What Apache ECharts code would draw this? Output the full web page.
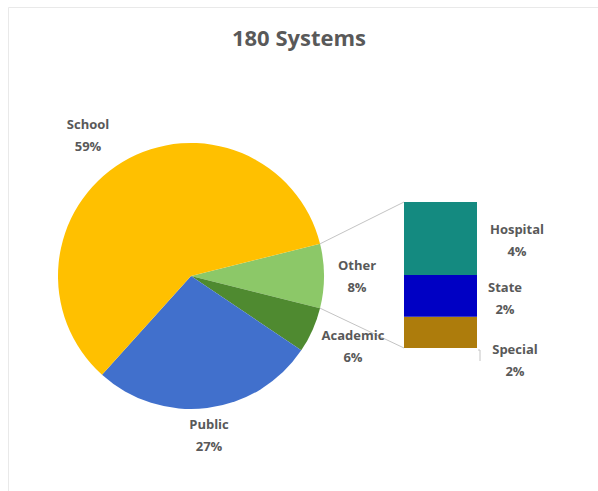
<!DOCTYPE html>
<html>
<head>
<meta charset="utf-8">
<script src="https://cdn.jsdelivr.net/npm/echarts@6/dist/echarts.min.js"></script>
<style>
  html, body { margin: 0; padding: 0; background: #ffffff; }
  #chart { width: 598px; height: 491px; }
</style>
</head>
<body>
<div id="chart"></div>
<script>
// Number of systems in each group (180 in total)
const TOTAL = 180;
const pieNames = ['Other', 'Academic', 'Public', 'School'];
const pieCounts = [14, 10, 49, 107];
// "Other" broken down in the side bar (bottom to top)
const barNames = ['Special', 'State', 'Hospital'];
const barCounts = [3, 4, 7];

// ---- styling / layout ----
const FONT = '"Open Sans", Lato, sans-serif';
const TEXT = '#595959';
const pieColors = { Other: '#8cc868', Academic: '#4f8a30', Public: '#4170cc', School: '#ffc000' };
const barColors = { Special: '#ad7c0c', State: '#0000c4', Hospital: '#148a80' };
const PIE_CX = 191, PIE_CY = 276, PIE_R = 133;
const GRID = { left: 404, top: 202, width: 73, height: 146 };
// label block centres
const labelAt = {
  School: [88, 135], Public: [209, 435], Other: [357, 276], Academic: [353, 346],
  Hospital: [517, 240], State: [505, 298], Special: [515, 360]
};

const pieTotal = pieCounts.reduce((a, b) => a + b, 0);
const otherIdx = pieNames.indexOf('Other');
const otherHalfDeg = pieCounts[otherIdx] / pieTotal * 360 / 2;

const chart = echarts.init(document.getElementById('chart'), null, { renderer: 'svg' });

const labelStyle = {
  fontFamily: FONT, fontSize: 13, fontWeight: 'bold', color: TEXT,
  lineHeight: 22, align: 'center', verticalAlign: 'middle'
};
function placeLabel(name) {
  const p = labelAt[name];
  return p ? { x: p[0], y: p[1], align: 'center', verticalAlign: 'middle' } : {};
}

// connector lines from the "Other" slice edges to the bar
const rad = a => a * Math.PI / 180;
const topEdge = [PIE_CX + PIE_R * Math.cos(rad(otherHalfDeg)), PIE_CY - PIE_R * Math.sin(rad(otherHalfDeg))];
const botEdge = [PIE_CX + PIE_R * Math.cos(rad(-otherHalfDeg)), PIE_CY - PIE_R * Math.sin(rad(-otherHalfDeg))];
const barBottom = GRID.top + GRID.height;
const barRight = GRID.left + GRID.width;

chart.setOption({
  animation: false,
  backgroundColor: '#ffffff',
  title: {
    text: '180 Systems', left: 'center', top: 21,
    textStyle: { fontFamily: FONT, fontSize: 22, fontWeight: 'bold', color: TEXT }
  },
  grid: { left: GRID.left, top: GRID.top, width: GRID.width, height: GRID.height },
  xAxis: { type: 'category', data: ['Other'], show: false },
  yAxis: { type: 'value', min: 0, max: barCounts.reduce((a, b) => a + b, 0), show: false },
  graphic: [
    { type: 'rect', silent: true, z: -10, shape: { x: 8.5, y: 7.5, width: 620, height: 520 },
      style: { fill: 'none', stroke: '#e9e9e9', lineWidth: 1 } },
    { type: 'line', silent: true, shape: { x1: topEdge[0], y1: topEdge[1], x2: GRID.left, y2: GRID.top },
      style: { stroke: '#c4c4c4', lineWidth: 1 } },
    { type: 'line', silent: true, shape: { x1: botEdge[0], y1: botEdge[1], x2: GRID.left, y2: barBottom },
      style: { stroke: '#c4c4c4', lineWidth: 1 } },
    { type: 'polyline', silent: true,
      shape: { points: [[barRight + 1, barBottom + 2], [barRight + 3, barBottom + 2], [barRight + 3, barBottom + 13]] },
      style: { fill: 'none', stroke: '#c4c4c4', lineWidth: 1 } }
  ],
  series: [
    {
      type: 'pie',
      center: [PIE_CX, PIE_CY],
      radius: PIE_R,
      startAngle: otherHalfDeg,
      clockwise: true,
      percentPrecision: 0,
      label: Object.assign({ show: true, formatter: '{b}\n{d}%' }, labelStyle),
      labelLine: { show: false },
      labelLayout: params => placeLabel(pieNames[params.dataIndex]),
      itemStyle: { borderWidth: 0 },
      data: pieNames.map((n, i) => ({ name: n, value: pieCounts[i], itemStyle: { color: pieColors[n] } }))
    },
    ...barNames.map((n, i) => ({
      type: 'bar',
      name: n,
      stack: 'other',
      barWidth: '100%',
      itemStyle: { color: barColors[n] },
      label: Object.assign({
        show: true, position: 'right',
        formatter: () => n + '\n' + Math.round(barCounts[i] / TOTAL * 100) + '%'
      }, labelStyle),
      labelLayout: () => placeLabel(n),
      data: [{ name: n, value: barCounts[i] }]
    }))
  ]
});
</script>
</body>
</html>
